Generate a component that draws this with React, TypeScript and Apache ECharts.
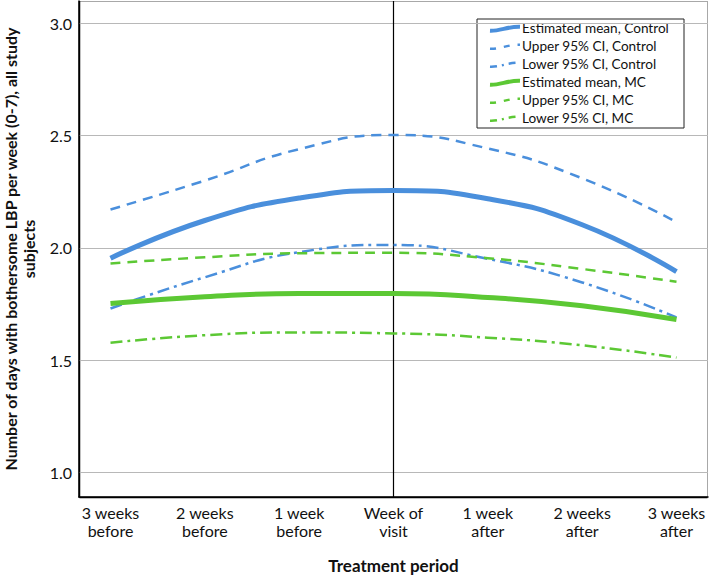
import React, { useEffect, useRef } from "react";
import * as echarts from "echarts";

const periods = [
  "3 weeks\nbefore",
  "2 weeks\nbefore",
  "1 week\nbefore",
  "Week of\nvisit",
  "1 week\nafter",
  "2 weeks\nafter",
  "3 weeks\nafter",
];
const weekIndex = [0, 1, 2, 3, 4, 5, 6];
const yTicks = [1.0, 1.5, 2.0, 2.5, 3.0];
const X_MIN = -0.334;
const X_MAX = 6.334;
const Y_MIN = 0.89;
const Y_MAX = 3.1;

const controlMean = [1.954, 2.122, 2.222, 2.256, 2.219, 2.103, 1.894];
const controlUpper = [2.171, 2.3, 2.44, 2.503, 2.443, 2.31, 2.115];
const controlLower = [1.73, 1.869, 1.981, 2.013, 1.951, 1.846, 1.69];
const mcMean = [1.752, 1.782, 1.797, 1.797, 1.779, 1.742, 1.681];
const mcUpper = [1.93, 1.958, 1.976, 1.978, 1.954, 1.906, 1.849];
const mcLower = [1.577, 1.611, 1.623, 1.619, 1.6, 1.566, 1.511];

const BLUE = "#4A8FDC";
const GREEN = "#5CC834";
const FONT = "Lato";

const seriesDefs = [
  { name: "Estimated mean, Control", data: controlMean, color: BLUE, width: 5, dash: null as number[] | null },
  { name: "Upper 95% CI, Control", data: controlUpper, color: BLUE, width: 2.5, dash: [10, 7] },
  { name: "Lower 95% CI, Control", data: controlLower, color: BLUE, width: 2.5, dash: [12, 5, 3, 5] },
  { name: "Estimated mean, MC", data: mcMean, color: GREEN, width: 5, dash: null },
  { name: "Upper 95% CI, MC", data: mcUpper, color: GREEN, width: 2.5, dash: [10, 7] },
  { name: "Lower 95% CI, MC", data: mcLower, color: GREEN, width: 2.5, dash: [12, 5, 3, 5] },
];

const GRID_LEFT = 79;
const GRID_TOP = 1;
const GRID_RIGHT = 1;
const GRID_BOTTOM = 78;
const W = 709;
const H = 575;

export default function App() {
  const ref = useRef<HTMLDivElement>(null);
  useEffect(() => {
    if (!ref.current) return;
    const chart = echarts.init(ref.current, undefined, { renderer: "svg" });
    const series: any[] = seriesDefs.map((s, i) => ({
      name: s.name,
      type: "line",
      smooth: true,
      symbol: "none",
      data: weekIndex.map((x, j) => [x, s.data[j]]),
      lineStyle: { color: s.color, width: s.width, type: s.dash || "solid", cap: "butt" },
      itemStyle: { color: s.color },
      z: 3,
      ...(i === 0
        ? {
            markLine: {
              silent: true,
              symbol: "none",
              label: { show: false },
              lineStyle: { color: "#000", width: 1.2, type: "solid" },
              data: [{ xAxis: 3 }],
              z: 2,
            },
          }
        : {}),
    }));

    const legX = 477;
    const legY = 19;
    const rowH = 18;
    const legendChildren: any[] = [
      {
        type: "rect",
        shape: { x: legX, y: legY, width: 207, height: 109 },
        style: { fill: "#fff", stroke: "#222", lineWidth: 1 },
      },
    ];
    seriesDefs.forEach((s, i) => {
      const cy = legY + 9.3 + i * rowH;
      legendChildren.push({
        type: "bezierCurve",
        shape: {
          x1: 490,
          y1: cy + 2.5,
          x2: 520,
          y2: cy - 1.5,
          cpx1: 500,
          cpy1: cy + 3,
          cpx2: 508,
          cpy2: cy - 2,
        },
        style: {
          stroke: s.color,
          lineWidth: s.width === 5 ? 4 : 2.5,
          fill: null,
          lineDash: s.dash ? (s.dash.length === 2 ? [6, 8] : [7, 5, 2, 5]) : null,
        },
      });
      legendChildren.push({
        type: "text",
        x: 522,
        y: cy,
        style: {
          text: s.name,
          fill: "#111",
          font: `13.6px ${FONT}`,
          verticalAlign: "middle",
          align: "left",
        },
      });
    });

    const gx0 = GRID_LEFT + 0.5;
    const gx1 = W - GRID_RIGHT - 0.5;
    const gy0 = GRID_TOP;
    const gy1 = H - GRID_BOTTOM;
    const frame: any[] = [
      { type: "line", shape: { x1: gx0, y1: gy0 + 0.5, x2: gx1, y2: gy0 + 0.5 }, style: { stroke: "#a8a8a8", lineWidth: 1 } },
      { type: "line", shape: { x1: gx1, y1: gy0, x2: gx1, y2: gy1 }, style: { stroke: "#a8a8a8", lineWidth: 1 } },
      { type: "line", shape: { x1: gx0, y1: gy0, x2: gx0, y2: gy1 + 0.5 }, style: { stroke: "#000", lineWidth: 1.5 } },
      { type: "line", shape: { x1: gx0, y1: gy1 + 0.5, x2: gx1, y2: gy1 + 0.5 }, style: { stroke: "#000", lineWidth: 1.5 } },
    ];

    chart.setOption({
      animation: false,
      textStyle: { fontFamily: FONT },
      grid: {
        left: GRID_LEFT,
        right: GRID_RIGHT,
        top: GRID_TOP,
        bottom: GRID_BOTTOM,
        containLabel: false,
        outerBoundsMode: "none",
      },
      xAxis: {
        type: "value",
        min: X_MIN,
        max: X_MAX,
        name: "Treatment period",
        nameLocation: "middle",
        nameGap: 60,
        nameTextStyle: { fontSize: 17, fontWeight: "bold", color: "#111", fontFamily: FONT },
        axisLine: { show: true, onZero: false, lineStyle: { color: "#000", width: 1.5 } },
        axisTick: { show: false, customValues: weekIndex },
        splitLine: { show: false },
        axisLabel: {
          customValues: weekIndex,
          formatter: (v: number) => periods[Math.round(v)],
          fontSize: 16,
          lineHeight: 18,
          color: "#111",
          margin: 6,
          fontFamily: FONT,
        },
      },
      yAxis: {
        type: "value",
        min: Y_MIN,
        max: Y_MAX,
        name: "Number of days with bothersome LBP per week (0-7), all study\nsubjects",
        nameLocation: "middle",
        nameGap: 42,
        nameTextStyle: {
          fontSize: 16,
          fontWeight: "bold",
          color: "#111",
          lineHeight: 18,
          fontFamily: FONT,
        },
        axisLine: { show: true, onZero: false, lineStyle: { color: "#000", width: 1.5 } },
        axisTick: { show: false, customValues: yTicks },
        splitLine: { show: true, lineStyle: { color: "#b8b8b8", width: 1 } },
        axisLabel: {
          customValues: yTicks,
          formatter: (v: number) => v.toFixed(1),
          fontSize: 16,
          color: "#111",
          margin: 7,
          fontFamily: FONT,
        },
      },
      graphic: [
        { type: "group", children: frame, z: 90 },
        { type: "group", children: legendChildren, z: 100 },
      ],
      series,
    });
    return () => chart.dispose();
  }, []);
  return (
    <div
      ref={ref}
      style={{ position: "fixed", left: 0, top: 0, width: W, height: H, background: "#fff" }}
    />
  );
}
